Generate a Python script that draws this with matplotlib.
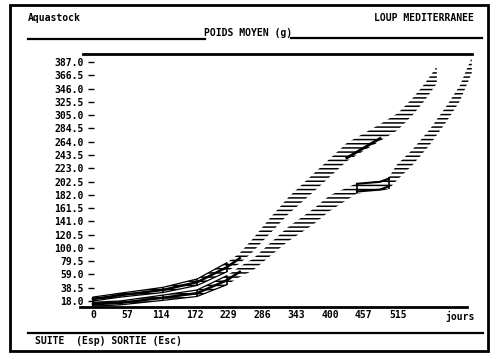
import numpy as np
import matplotlib; matplotlib.use('agg')
import matplotlib.pyplot as plt
from matplotlib.lines import Line2D
from matplotlib.patches import Rectangle

# values (days, mean weight in g, half band width in g)
days_a = [0, 46, 118, 176, 226, 248, 270, 300, 330, 372, 429, 485, 515, 540, 560, 581]
poids_a = [21, 27, 35, 47, 70, 84, 104, 135, 165, 200, 248, 278, 295, 318, 340, 367]
ecart_a = [3, 3, 4, 5, 7, 8, 10, 12, 13, 14, 14, 13, 13, 13, 13, 13]

days_b = [0, 46, 118, 176, 226, 248, 270, 328, 372, 400, 446, 485, 500, 513, 540, 569, 598, 620, 640]
poids_b = [13, 15, 23, 30, 50, 63, 74, 120, 148, 169, 192, 195, 200, 216, 240, 271, 308, 339, 382]
ecart_b = [3, 3, 4, 5, 7, 8, 9, 11, 12, 12, 8, 8, 9, 12, 12, 12, 12, 12, 12]

# sampling dates drawn with a vertical bar (indices into the arrays above)
barres_a = [0, 1, 2, 3, 4]
barres_b = [0, 1, 2, 3, 4, 10, 12]

yticks = [18.0, 38.5, 59.0, 79.5, 100.0, 120.5, 141.0, 161.5, 182.0, 202.5,
          223.0, 243.5, 264.0, 284.5, 305.0, 325.5, 346.0, 366.5, 387.0]
xticks = [0, 57.2, 114.4, 171.6, 228.8, 286, 343.2, 400.4, 457.6, 514.8]
xlabels = ['0', '57', '114', '172', '229', '286', '343', '400', '457', '515']

plt.rcParams['hatch.linewidth'] = 1.1
font = dict(family='DejaVu Sans Mono', weight='bold', size=7)

W, H = 500, 359
fig = plt.figure(figsize=(5, 3.59), dpi=100)

def px(x, y):
    return x / W, 1 - y / H

def hline(x0, x1, y, lw=1.6):
    a = px(x0, y); b = px(x1, y)
    fig.add_artist(Line2D([a[0], b[0]], [a[1], b[1]], color='black', lw=lw))

# screen frame and header
fig.add_artist(Rectangle(px(10, 351), 478 / W, 346 / H, fill=False, lw=2, color='black'))
fig.text(*px(28, 18), 'Aquastock', va='center', ha='left', **font)
fig.text(*px(474, 18), 'LOUP MEDITERRANEE', va='center', ha='right', **font)
fig.text(*px(248, 33), 'POIDS MOYEN (g)', va='center', ha='center', **font)
hline(28, 205, 39)
hline(291, 482, 38)
hline(83, 472, 54, lw=2)
hline(80, 467, 307, lw=2)
hline(28, 483, 333)
fig.text(*px(35, 341), 'SUITE  (Esp) SORTIE (Esc)', va='center', ha='left', **font)

ax = fig.add_axes([88 / W, 1 - 307 / H, 382 / W, 253 / H])
ax.set_xlim(-8.4, 637)
ax.set_ylim(8.7, 399.4)
for s in ax.spines.values():
    s.set_visible(False)

for d, p, e, bars in [(days_a, poids_a, ecart_a, barres_a),
                      (days_b, poids_b, ecart_b, barres_b)]:
    d = np.array(d); p = np.array(p); e = np.array(e)
    ax.fill_between(d, p - e, p + e, facecolor='none', edgecolor='black',
                    hatch='----', lw=0, clip_on=False)
    ax.vlines(d[bars], (p - e)[bars], (p + e)[bars], color='black', lw=1.2)
    ax.plot(d[:6], p[:6], color='black', lw=1.8)
    ax.plot(d[:5], (p - e)[:5], color='black', lw=0.9)
    ax.plot(d[:5], (p + e)[:5], color='black', lw=0.9)

ax.plot(np.array(days_b[10:13]), np.array(poids_b[10:13]) + 7, color='black', lw=1.5)
ax.plot(np.array(days_b[10:13]), np.array(poids_b[10:13]) - 5, color='black', lw=1.5)
ax.plot(np.array(days_a[10:12]), np.array(poids_a[10:12]) - 9, color='black', lw=2)

ax.set_yticks(yticks)
ax.set_yticklabels(['%.1f' % v for v in yticks], **font)
ax.set_xticks(xticks)
ax.set_xticklabels(xlabels, **font)
ax.tick_params(axis='y', direction='in', length=4, width=1, pad=3)
ax.tick_params(axis='x', length=0, pad=2)
fig.text(*px(460, 316), 'jours', va='center', ha='center', **font)

fig.savefig('out.png', dpi=100)
